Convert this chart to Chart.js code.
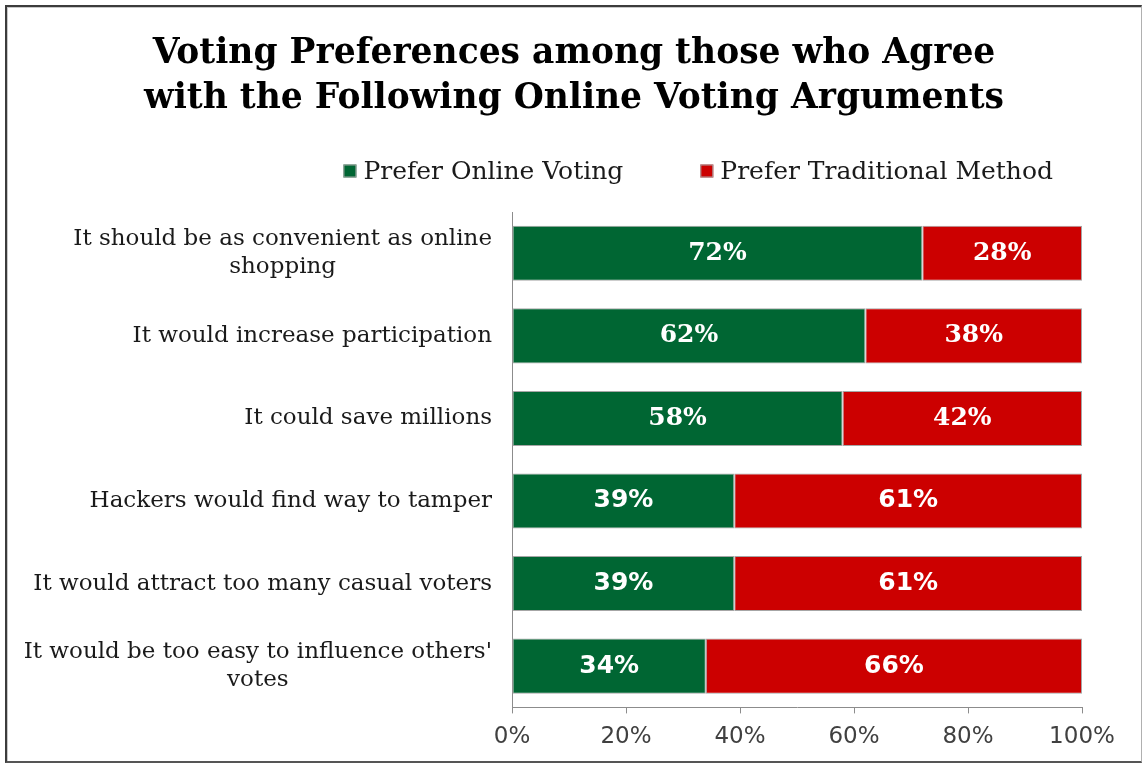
<!DOCTYPE html>
<html>
<head>
<meta charset="utf-8">
<title>Voting Preferences</title>
<script src="https://cdn.jsdelivr.net/npm/chart.js"></script>
<style>
  html, body { margin: 0; background: #fff; }
  #wrap { position: relative; width: 1144px; height: 766px; }
  #votingChart { position: absolute; left: 0; top: 0; }
  /* outer frame of the chart sheet */
  #frame {
    position: absolute; left: 5px; top: 5px; width: 1134px; height: 754px;
    border-left: 2px solid #3c3c3c; border-top: 2px solid #3c3c3c;
    border-bottom: 2px solid #555; border-right: 1px solid #b0b0b0;
    box-shadow: inset 1px 1px 0 #c8c8c8;
    pointer-events: none;
  }
</style>
</head>
<body>
<div id="wrap">
  <canvas id="votingChart" width="1144" height="766"></canvas>
  <div id="frame"></div>
</div>
<script>
const titleLines = ['Voting Preferences among those who Agree', 'with the Following Online Voting Arguments'];
const categories = [
  ['It should be as convenient as online', 'shopping'],
  'It would increase participation',
  'It could save millions',
  'Hackers would find way to tamper',
  'It would attract too many casual voters',
  ["It would be too easy to influence others'", 'votes']
];
const seriesNames = ['Prefer Online Voting', 'Prefer Traditional Method'];
const seriesColors = ['#006633', '#CC0000'];
const preferOnline = [72, 62, 58, 39, 39, 34];
const preferTraditional = [28, 38, 42, 61, 61, 66];
const xTicks = [0, 20, 40, 60, 80, 100];

const SERIF = '"DejaVu Serif", "Liberation Serif", serif';
const SANS = '"DejaVu Sans", "Liberation Sans", sans-serif';

// right-aligned category names, extra lines centred under the first
const categoryLabels = {
  id: 'categoryLabels',
  afterDraw(chart) {
    const { ctx, scales: { y } } = chart;
    ctx.save();
    ctx.font = '23px ' + SERIF;
    ctx.fillStyle = '#1a1a1a';
    ctx.textAlign = 'center';
    ctx.textBaseline = 'middle';
    const right = y.right - 20;
    categories.forEach((label, i) => {
      const rows = [].concat(label);
      const widest = Math.max(...rows.map(r => ctx.measureText(r).width));
      const cy = y.getPixelForValue(i);
      rows.forEach((r, j) => {
        ctx.fillText(r, right - widest / 2, cy + (j - (rows.length - 1) / 2) * 28);
      });
    });
    ctx.restore();
  }
};

// percentage inside each segment
const barValues = {
  id: 'barValues',
  afterDatasetsDraw(chart) {
    const { ctx } = chart;
    ctx.save();
    ctx.fillStyle = '#fff';
    ctx.textAlign = 'center';
    ctx.textBaseline = 'middle';
    chart.data.datasets.forEach((ds, di) => {
      chart.getDatasetMeta(di).data.forEach((bar, i) => {
        const { x, base, y } = bar.getProps(['x', 'base', 'y'], true);
        ctx.font = i < 3 ? 'bold 25px ' + SERIF : 'bold 25px ' + SANS;
        ctx.fillText(ds.data[i] + '%', (x + base) / 2, y);
      });
    });
    ctx.restore();
  }
};

// legend row above the plot
const seriesLegend = {
  id: 'seriesLegend',
  afterDraw(chart) {
    const { ctx, chartArea } = chart;
    const box = 13, gap = 7, spacing = 77, cy = 171;
    ctx.save();
    ctx.font = '25px ' + SERIF;
    ctx.textBaseline = 'middle';
    const widths = chart.data.datasets.map(ds => box + gap + ctx.measureText(ds.label).width);
    let x = chartArea.right - 29 - widths.reduce((a, b) => a + b, 0) - spacing * (widths.length - 1);
    chart.data.datasets.forEach((ds, i) => {
      ctx.fillStyle = ds.backgroundColor;
      ctx.fillRect(x, cy - box / 2, box, box);
      ctx.strokeStyle = '#a6a6a6';
      ctx.lineWidth = 1;
      ctx.strokeRect(x + 0.5, cy - box / 2 + 0.5, box - 1, box - 1);
      ctx.fillStyle = '#1a1a1a';
      ctx.fillText(ds.label, x + box + gap, cy + 1);
      x += widths[i] + spacing;
    });
    ctx.restore();
  }
};

new Chart(document.getElementById('votingChart'), {
  type: 'bar',
  data: {
    labels: categories,
    datasets: [
      { label: seriesNames[0], data: preferOnline, backgroundColor: seriesColors[0] },
      { label: seriesNames[1], data: preferTraditional, backgroundColor: seriesColors[1] }
    ]
  },
  options: {
    indexAxis: 'y',
    responsive: false,
    animation: false,
    layout: { padding: { left: 66, right: 62, top: 0, bottom: 5 } },
    datasets: {
      bar: {
        borderColor: '#a6a6a6',
        borderWidth: 1,
        borderSkipped: false,
        categoryPercentage: 0.667,
        barPercentage: 1
      }
    },
    plugins: {
      legend: { display: false },
      tooltip: { enabled: false },
      title: {
        display: true,
        text: titleLines,
        color: '#000',
        font: { family: SERIF, size: 34.5, weight: 'bold', lineHeight: 1.3 },
        padding: { top: 31.6, bottom: 90.7 }
      }
    },
    scales: {
      x: {
        stacked: true,
        min: 0,
        max: 100,
        afterBuildTicks: s => { s.ticks = xTicks.map(v => ({ value: v })); },
        ticks: {
          callback: v => v + '%',
          color: '#404040',
          font: { family: SANS, size: 23 },
          padding: 10,
          maxRotation: 0
        },
        grid: { drawOnChartArea: false, drawTicks: true, tickLength: 6, color: '#8c8c8c' },
        border: { display: true, color: '#8c8c8c' }
      },
      y: {
        stacked: true,
        ticks: { display: false },
        grid: { display: false },
        border: { display: true, color: '#8c8c8c' },
        afterFit: s => { s.width = 446; }
      }
    }
  },
  plugins: [categoryLabels, barValues, seriesLegend]
});
</script>
</body>
</html>
